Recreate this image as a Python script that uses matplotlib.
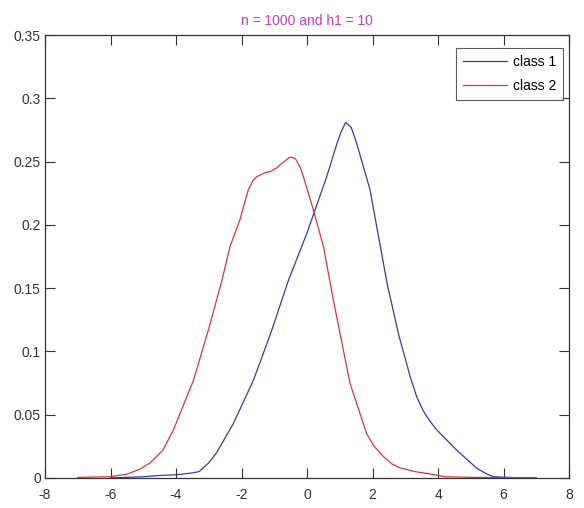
import matplotlib
matplotlib.use('Agg')
import matplotlib.pyplot as plt

plt.rcParams['font.family'] = ['Liberation Sans', 'DejaVu Sans']
plt.rcParams['axes.unicode_minus'] = False

# class 1 (blue)
x1 = [-6.0, -5.5, -5.0, -4.5, -4.0, -3.5, -3.3, -3.17, -3.0, -2.76, -2.25, -1.64, -1.1, -0.57, -0.01,
      0.6, 0.91, 1.05, 1.18, 1.35, 1.52, 1.92, 2.45, 2.8, 3.15, 3.35, 3.55, 3.75, 3.96, 4.57, 5.18, 5.5, 5.7, 6.3, 7.0]
y1 = [0.0, 0.0005, 0.001, 0.002, 0.0025, 0.004, 0.005, 0.008, 0.012, 0.020, 0.043, 0.077, 0.115, 0.156, 0.193,
      0.238, 0.264, 0.274, 0.281, 0.277, 0.264, 0.228, 0.153, 0.113, 0.080, 0.064, 0.053, 0.045, 0.038, 0.022, 0.0077, 0.003, 0.001, 0.0003, 0.0]

# class 2 (red)
x2 = [-7.0, -6.0, -5.5, -5.1, -4.79, -4.4, -4.08, -3.47, -3.0, -2.6, -2.35, -2.05, -1.9, -1.79, -1.65, -1.54,
      -1.3, -1.13, -0.93, -0.7, -0.55, -0.47, -0.35, -0.2, -0.11, 0.19, 0.5, 0.8, 1.31, 1.82, 2.05, 2.33, 2.6,
      2.84, 3.3, 3.8, 4.2, 5.0, 6.0, 7.0]
y2 = [0.0005, 0.001, 0.003, 0.007, 0.012, 0.022, 0.038, 0.077, 0.118, 0.156, 0.183, 0.204, 0.218, 0.228, 0.235, 0.238,
      0.241, 0.242, 0.245, 0.250, 0.253, 0.2535, 0.252, 0.245, 0.238, 0.212, 0.183, 0.141, 0.075, 0.035, 0.025, 0.017, 0.011,
      0.008, 0.005, 0.003, 0.001, 0.0005, 0.0003, 0.0003]

fig = plt.figure(figsize=(5.84, 5.08), dpi=100)
ax = fig.add_axes([0.0771, 0.0591, 0.8973, 0.872])

ax.plot(x1, y1, color='#3a3aa8', lw=0.9, label='class 1')
ax.plot(x2, y2, color='#d43a3a', lw=0.9, label='class 2')

ax.set_xlim(-8, 8)
ax.set_ylim(0, 0.35)
ax.set_xticks(range(-8, 9, 2))
ax.set_yticks([0, 0.05, 0.1, 0.15, 0.2, 0.25, 0.3, 0.35])
ax.set_yticklabels(['0', '0.05', '0.1', '0.15', '0.2', '0.25', '0.3', '0.35'])
ax.tick_params(direction='in', length=7, width=0.8, top=True, right=True,
               labelsize=10, colors='#333333')
ax.tick_params(axis='x', pad=7)
ax.tick_params(axis='y', pad=3)
for s in ax.spines.values():
    s.set_linewidth(0.9)
    s.set_color('#333333')

ax.set_title('n = 1000 and h1 = 10', color='#c040c0', fontsize=10, pad=7)

leg = ax.legend(loc='upper right', bbox_to_anchor=(0.9885, 0.9707), borderaxespad=0,
                fancybox=False, edgecolor='#333333', fontsize=10, handlelength=3.2,
                handletextpad=0.4, borderpad=0.5, labelspacing=0.7)
leg.get_frame().set_linewidth(0.8)

plt.savefig('out.png', dpi=100)
